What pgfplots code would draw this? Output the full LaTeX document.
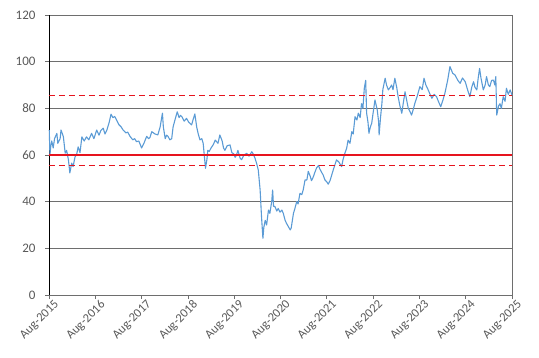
\documentclass[border=0pt]{standalone}
\usepackage{pgfplots}
\pgfplotsset{compat=1.18}
\usepackage{fontspec}
\setmainfont{Carlito}
\definecolor{lineblue}{RGB}{91,155,213}
\definecolor{txtgray}{RGB}{89,89,89}
\definecolor{gridgray}{RGB}{110,110,110}
\definecolor{refred}{RGB}{230,20,30}
\begin{document}
\begin{tikzpicture}
\begin{axis}[
  scale only axis,
  width=463pt, height=280pt,
  xmin=0, xmax=10, ymin=0, ymax=120,
  xtick={0,1,2,3,4,5,6,7,8,9,10},
  xticklabels={Aug-2015,Aug-2016,Aug-2017,Aug-2018,Aug-2019,Aug-2020,Aug-2021,Aug-2022,Aug-2023,Aug-2024,Aug-2025},
  ytick={0,20,40,60,80,100,120},
  xticklabel style={rotate=45, anchor=north east, font=\fontsize{12.5}{14}\selectfont, text=txtgray, inner sep=1pt, xshift=4pt, yshift=-2pt},
  yticklabel style={font=\fontsize{13}{14}\selectfont, text=txtgray, xshift=-6pt},
  /pgf/number format/assume math mode=true,
  ymajorgrids, grid style={gridgray, line width=0.8pt},
  axis line style={gridgray, line width=0.8pt},
  tick style={gridgray, line width=0.8pt},
  tick align=outside, major tick length=4pt,
  xtick pos=bottom, ytick pos=left,
  clip=false,
]
\coordinate (bl) at (rel axis cs:0,0);
\coordinate (tr) at (rel axis cs:1,1);
\draw[black, line width=0.8pt] (rel axis cs:0,0) -- (rel axis cs:0,1);
\addplot[lineblue, line width=1.1pt, line join=round] coordinates {
(0.006,70.7) (0.02,60) (0.04,64) (0.06,66) (0.09,63) (0.12,67) (0.17,69.3) (0.19,65) (0.24,67) (0.26,70.7)
(0.31,67.9) (0.35,60.8) (0.38,62) (0.42,57.9) (0.45,52.3) (0.49,56.5) (0.52,55) (0.56,59) (0.60,60.5) (0.63,63.5)
(0.67,61) (0.71,67.8) (0.76,66) (0.81,67.8) (0.86,66.5) (0.92,69.3) (0.97,67) (1.03,70.7) (1.08,68.5) (1.12,70.5)
(1.17,71.5) (1.21,69) (1.25,70.7) (1.30,74) (1.34,77.5) (1.38,76) (1.42,76.5) (1.46,75) (1.51,73) (1.56,72)
(1.60,70.7) (1.66,69.5) (1.70,69.8) (1.75,68) (1.81,66.5) (1.85,67) (1.89,65.7) (1.94,66) (2.00,63) (2.05,65)
(2.11,68) (2.15,67) (2.18,67.5) (2.22,70) (2.29,69) (2.35,68.6) (2.40,72) (2.45,77.9) (2.47,72) (2.51,67)
(2.54,68.5) (2.57,68) (2.61,66.5) (2.65,67) (2.68,72) (2.72,75) (2.77,78.5) (2.81,76) (2.84,77) (2.87,76.4)
(2.92,74.5) (2.97,75.7) (3.02,74) (3.08,72.9) (3.11,75) (3.15,77.6) (3.19,72) (3.22,69.3) (3.26,66.5) (3.30,67)
(3.33,65) (3.38,54.3) (3.41,58) (3.43,62) (3.46,61.5) (3.50,63) (3.55,64.5) (3.59,66.4) (3.65,65) (3.69,68.6)
(3.74,66) (3.77,63) (3.80,62) (3.85,64) (3.91,64.3) (3.95,61) (3.99,60.5) (4.02,59) (4.05,60) (4.08,62)
(4.13,58.5) (4.16,58) (4.21,60) (4.27,60.7) (4.32,59.5) (4.38,61.4) (4.41,60.5) (4.45,58.6) (4.49,56) (4.52,53.6)
(4.56,45) (4.59,33.6) (4.62,24.3) (4.64,29) (4.67,32) (4.70,30) (4.74,36.4) (4.77,35) (4.81,40) (4.83,45)
(4.85,38) (4.88,37.9) (4.92,36) (4.95,37.1) (4.99,35.5) (5.03,36.4) (5.06,35) (5.10,32) (5.13,30.7) (5.17,29.3)
(5.21,27.9) (5.23,28.6) (5.28,35) (5.31,37) (5.35,40) (5.38,39) (5.42,43.6) (5.46,43) (5.49,45) (5.53,49.3)
(5.57,49.3) (5.60,53) (5.64,51) (5.67,49) (5.71,50.7) (5.75,53) (5.78,54.5) (5.82,55.5) (5.85,54) (5.89,52.5)
(5.92,51.5) (5.96,49.3) (6.00,48.5) (6.03,47.5) (6.07,49) (6.13,53) (6.17,55.5) (6.21,57.9) (6.26,57) (6.32,55)
(6.35,58) (6.39,60.7) (6.43,63) (6.46,66.4) (6.50,65) (6.54,70) (6.57,69) (6.61,76.4) (6.65,75) (6.68,77.9)
(6.72,76) (6.75,82) (6.78,80) (6.81,88.6) (6.84,92) (6.86,77.9) (6.89,74) (6.91,69.3) (6.94,72) (6.97,73.6)
(7.00,78) (7.04,83.6) (7.09,79.3) (7.12,74) (7.13,68.6) (7.16,76) (7.19,82) (7.21,88) (7.26,92.9) (7.29,90)
(7.33,87.9) (7.37,89) (7.40,90) (7.43,88) (7.47,92.9) (7.51,89) (7.54,85) (7.58,81) (7.62,77.9) (7.65,82)
(7.69,87.1) (7.72,84) (7.76,80) (7.80,78.5) (7.83,77.1) (7.86,79) (7.90,82) (7.95,85) (8.01,89.3) (8.06,88)
(8.10,92.9) (8.14,90) (8.19,87.9) (8.23,86) (8.27,84.3) (8.32,86) (8.37,85) (8.41,83) (8.46,80.7) (8.50,83)
(8.55,86.4) (8.61,92) (8.66,97.9) (8.72,95) (8.77,94.3) (8.83,92) (8.88,90.7) (8.93,93) (8.99,91.4) (9.04,88)
(9.09,85) (9.13,89) (9.17,91.4) (9.20,89) (9.24,87.9) (9.27,93) (9.30,97.1) (9.33,93) (9.38,87.9) (9.42,90)
(9.45,93.6) (9.49,90) (9.52,89.3) (9.56,92) (9.60,92.1) (9.63,90) (9.65,93.6) (9.67,77.1) (9.71,81) (9.74,82)
(9.77,80) (9.81,85) (9.85,83) (9.88,88.6) (9.92,86) (9.96,87.9) (10.0,85.7)
};
\addplot[refred, line width=1.5pt, mark=none, dash pattern=on 6pt off 4pt] coordinates {(0,85.6) (10,85.6)};
\addplot[refred, line width=1.3pt, mark=none] coordinates {(0,60) (10,60)};
\addplot[refred, line width=1.5pt, mark=none, dash pattern=on 6pt off 4pt] coordinates {(0,55.6) (10,55.6)};
\end{axis}
\path ([shift={(-49pt,-62pt)}]bl) rectangle ([shift={(27pt,15pt)}]tr);
\end{tikzpicture}
\end{document}
